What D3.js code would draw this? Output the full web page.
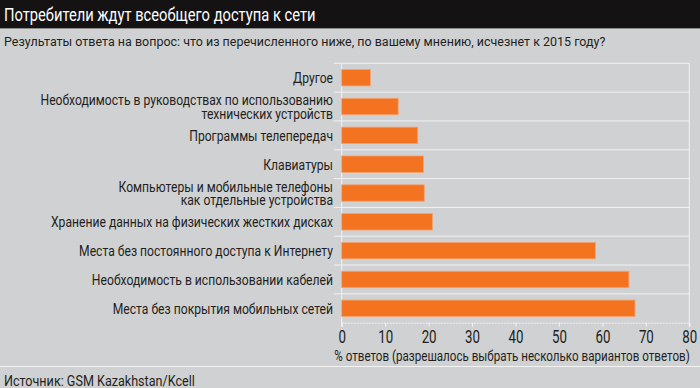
<!DOCTYPE html>
<html>
<head>
<meta charset="utf-8">
<script src="https://cdn.jsdelivr.net/npm/d3@7"></script>
<style>
  body { margin: 0; background: #d0d1d3; }
  svg { display: block; }
  text { font-family: Roboto, "Noto Sans", sans-serif; }
</style>
</head>
<body>
<svg id="vis"></svg>
<script>
// Данные
const categories = [
    "Другое",
    "Необходимость в руководствах по использованию\nтехнических устройств",
    "Программы телепередач",
    "Клавиатуры",
    "Компьютеры и мобильные телефоны\nкак отдельные устройства",
    "Хранение данных на физических жестких дисках",
    "Места без постоянного доступа к Интернету",
    "Необходимость в использовании кабелей",
    "Места без покрытия мобильных сетей"
];
const values = [6.6, 13, 17.5, 18.8, 19, 20.9, 58.4, 66.1, 67.5];
const ticks = [0, 10, 20, 30, 40, 50, 60, 70, 80];

const title = "Потребители ждут всеобщего доступа к сети";
const subtitle = "Результаты ответа на вопрос: что из перечисленного ниже, по вашему мнению, исчезнет к 2015 году?";
const axisTitle = "% ответов (разрешалось выбрать несколько вариантов ответов)";
const source = "Источник: GSM Kazakhstan/Kcell";

const WIDTH = 700;
const HEIGHT = 388;
const PLOT = { left: 341.7, right: 689.3, top: 63.3, bottom: 322.7 };
const INK = "#231f20";
const WHITE = "#f2f2f2";

const svg = d3.select("#vis")
    .attr("width", WIDTH)
    .attr("height", HEIGHT);

// узкий шрифт оригинала: сдвиг + сжатие по x
function addText(parent, x, y, str, size, k) {
    return parent.append("text")
        .attr("transform", `translate(${x},${y}) scale(${k},1)`)
        .attr("font-size", size)
        .attr("fill", INK)
        .text(str);
}

svg.append("rect")
    .attr("width", WIDTH).attr("height", HEIGHT)
    .attr("fill", "#d0d1d3");

// Шапка
svg.append("rect")
    .attr("width", WIDTH).attr("height", 28.5)
    .attr("fill", "#141213");
svg.append("line")
    .attr("x1", 0).attr("x2", WIDTH)
    .attr("y1", 28.5).attr("y2", 28.5)
    .attr("stroke", "#8a8a8a");

addText(svg, 4, 20.7, title, 19, 0.775).attr("fill", "#fff");
addText(svg, 4, 46, subtitle, 13.5, 0.925);

// Шкалы
const x = d3.scaleLinear().domain([0, 80]).range([PLOT.left, PLOT.right]);
const y = d3.scaleBand().domain(categories).range([PLOT.top, PLOT.bottom])
    .paddingInner(0.43).paddingOuter(0.215);

const step = y.step();
const bounds = d3.range(categories.length + 1).map(i => PLOT.top + i * step);

// Сетка по строкам
svg.append("g")
    .selectAll("line")
    .data(bounds.slice(0, -1))
    .join("line")
    .attr("x1", PLOT.left - 8).attr("x2", PLOT.right)
    .attr("y1", d => d).attr("y2", d => d)
    .attr("stroke", WHITE)
    .attr("stroke-width", 1);

// Оси
svg.append("line")
    .attr("x1", PLOT.left).attr("x2", PLOT.left)
    .attr("y1", PLOT.top).attr("y2", PLOT.bottom + 4)
    .attr("stroke", WHITE);
svg.append("line")
    .attr("x1", PLOT.right).attr("x2", PLOT.right)
    .attr("y1", PLOT.top).attr("y2", PLOT.bottom + 4)
    .attr("stroke", WHITE);

const xAxis = svg.append("g")
    .attr("transform", `translate(0, ${PLOT.bottom})`)
    .call(d3.axisBottom(x).tickValues(ticks).tickSize(4).tickPadding(4));
xAxis.select(".domain").attr("stroke", WHITE).attr("stroke-dasharray", "2,1");
xAxis.selectAll(".tick line").attr("stroke", WHITE);
xAxis.selectAll(".tick text")
    .attr("fill", INK)
    .attr("font-size", 17.5)
    .attr("font-family", "Roboto, sans-serif")
    .attr("transform", "scale(0.76,1)");

// Бары
svg.append("g")
    .selectAll("rect")
    .data(categories)
    .join("rect")
    .attr("x", x(0))
    .attr("y", d => y(d))
    .attr("width", (d, i) => x(values[i]) - x(0))
    .attr("height", y.bandwidth())
    .attr("fill", "#f37321")
    .attr("stroke", "#f3a373")
    .attr("stroke-width", 0.8);

// Подписи категорий
const labelG = svg.append("g");
categories.forEach(d => {
    const lines = d.split("\n");
    const cy = y(d) + y.bandwidth() / 2;
    const t = addText(labelG, 333, cy, null, 13.8, 0.88).attr("text-anchor", "end");
    lines.forEach((line, j) => {
        t.append("tspan")
            .attr("x", 0)
            .attr("y", (j - (lines.length - 1) / 2) * 13.4)
            .attr("dy", "0.4em")
            .text(line);
    });
});

// Подпись оси
addText(svg, 512, 360.7, axisTitle, 14, 0.83).attr("text-anchor", "middle");

// Подвал
svg.append("line")
    .attr("x1", 0).attr("x2", WIDTH)
    .attr("y1", 366.5).attr("y2", 366.5)
    .attr("stroke", WHITE);

addText(svg, 4, 385.5, source, 14, 0.9);
</script>
</body>
</html>
